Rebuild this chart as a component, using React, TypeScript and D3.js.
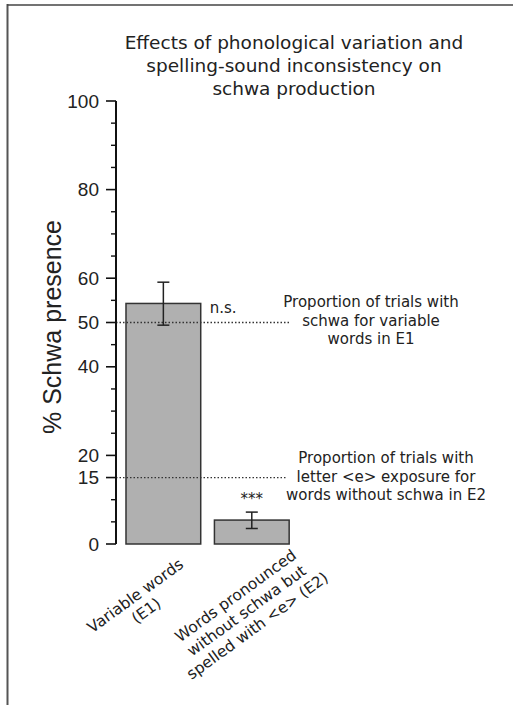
import React from "react";
import * as d3 from "d3";

const categories = ["Variable words (E1)", "Words pronounced without schwa but spelled with <e> (E2)"];
const categoryLines = [["Variable words", "(E1)"], ["Words pronounced", "without schwa but", "spelled with <e> (E2)"]];
const means = [54.3, 5.4];
const errLow = [49.4, 3.5];
const errHigh = [59.1, 7.2];
const significance = ["n.s.", "***"];
const tickLabels = [0, 15, 20, 40, 50, 60, 80, 100];
const refValues = [50, 15];
const refNotes = [
  ["Proportion of trials with", "schwa for variable", "words in E1"],
  ["Proportion of trials with", "letter <e> exposure for", "words without schwa in E2"],
];
const titleLines = ["Effects of phonological variation and", "spelling-sound inconsistency on", "schwa production"];
const yLabel = "% Schwa presence";

const W = 513;
const H = 705;
const axisX = 116;
const sans = "'DejaVu Sans', sans-serif";
const helv = "'Liberation Sans', Arial, sans-serif";

export default function App() {
  const y = d3.scaleLinear().domain([0, 100]).range([544, 101]);
  const x = d3.scaleBand<string>().domain(categories).range([117.15, 298]).paddingInner(0.155).paddingOuter(0.1);
  const minor = d3.range(0, 101, 5).filter((v) => !tickLabels.includes(v));
  const bw = x.bandwidth();
  const labelOffsets = [-25, -13];
  const noteX = [371, 386];
  const noteBase = [307, 463];
  const refEnd = [289, 287];

  return (
    <div style={{ position: "absolute", left: 0, top: 0 }}>
      <svg width={W} height={H} style={{ display: "block", background: "#fff" }}>
        {/* frame */}
        <line x1={7.5} x2={7.5} y1={4} y2={H} stroke="#555" strokeWidth={2} />
        <line x1={7} x2={W} y1={5} y2={5} stroke="#444" strokeWidth={1.5} />

        {/* title */}
        {titleLines.map((t, i) => (
          <text key={i} x={294} y={49 + i * 23} textAnchor="middle" fontFamily={sans} fontSize={18.5} fill="#222">
            {t}
          </text>
        ))}

        {/* bars */}
        {categories.map((c, i) => (
          <rect key={c} x={x(c)} y={y(means[i])} width={bw} height={y(0) - y(means[i])} fill="#b0b0b0" stroke="#333" strokeWidth={1.5} />
        ))}

        {/* reference dotted lines */}
        {refValues.map((v, i) => (
          <line key={v} x1={axisX} x2={refEnd[i]} y1={y(v)} y2={y(v)} stroke="#333" strokeWidth={1.3} strokeDasharray="1.5,2" />
        ))}

        {/* error bars */}
        {categories.map((c, i) => {
          const cx = (x(c) as number) + bw / 2;
          return (
            <g key={c} stroke="#222" strokeWidth={1.5}>
              <line x1={cx} x2={cx} y1={y(errLow[i])} y2={y(errHigh[i])} />
              <line x1={cx - 6} x2={cx + 6} y1={y(errLow[i])} y2={y(errLow[i])} />
              <line x1={cx - 6} x2={cx + 6} y1={y(errHigh[i])} y2={y(errHigh[i])} />
            </g>
          );
        })}

        {/* significance */}
        <text x={(x(categories[0]) as number) + bw + 9} y={313} fontFamily={sans} fontSize={15} fill="#222">
          {significance[0]}
        </text>
        <text x={(x(categories[1]) as number) + bw / 2} y={504} textAnchor="middle" fontFamily={sans} fontSize={15} fill="#222">
          {significance[1]}
        </text>

        {/* notes */}
        {refNotes.map((lines, i) =>
          lines.map((l, j) => (
            <text key={i + "-" + j} x={noteX[i]} y={noteBase[i] + j * 18.5} textAnchor="middle" fontFamily={sans} fontSize={15} fill="#222">
              {l}
            </text>
          ))
        )}

        {/* y axis */}
        <line x1={axisX} x2={axisX} y1={y(100)} y2={y(0)} stroke="#111" strokeWidth={2} />
        {tickLabels.map((v) => (
          <g key={v}>
            <line x1={axisX - 10} x2={axisX} y1={y(v)} y2={y(v)} stroke="#111" strokeWidth={1.6} />
            <text x={99} y={y(v)} dy="0.35em" textAnchor="end" fontFamily={helv} fontSize={19} fill="#222">
              {v}
            </text>
          </g>
        ))}
        {minor.map((v) => (
          <line key={v} x1={axisX - 5} x2={axisX} y1={y(v)} y2={y(v)} stroke="#111" strokeWidth={1.4} />
        ))}
        <text transform={`translate(61,327) rotate(-90)`} textAnchor="middle" fontFamily={helv} fontSize={25} fill="#222">
          {yLabel}
        </text>

        {/* x labels */}
        {categories.map((c, i) => {
          const cx = (x(c) as number) + bw / 2 + labelOffsets[i];
          return (
            <g key={c} transform={`translate(${cx},600) rotate(-36)`}>
              {categoryLines[i].map((l, j) => (
                <text key={j} x={0} y={j * 18.5} textAnchor="middle" fontFamily={sans} fontSize={15.5} fill="#222">
                  {l}
                </text>
              ))}
            </g>
          );
        })}
      </svg>
    </div>
  );
}
